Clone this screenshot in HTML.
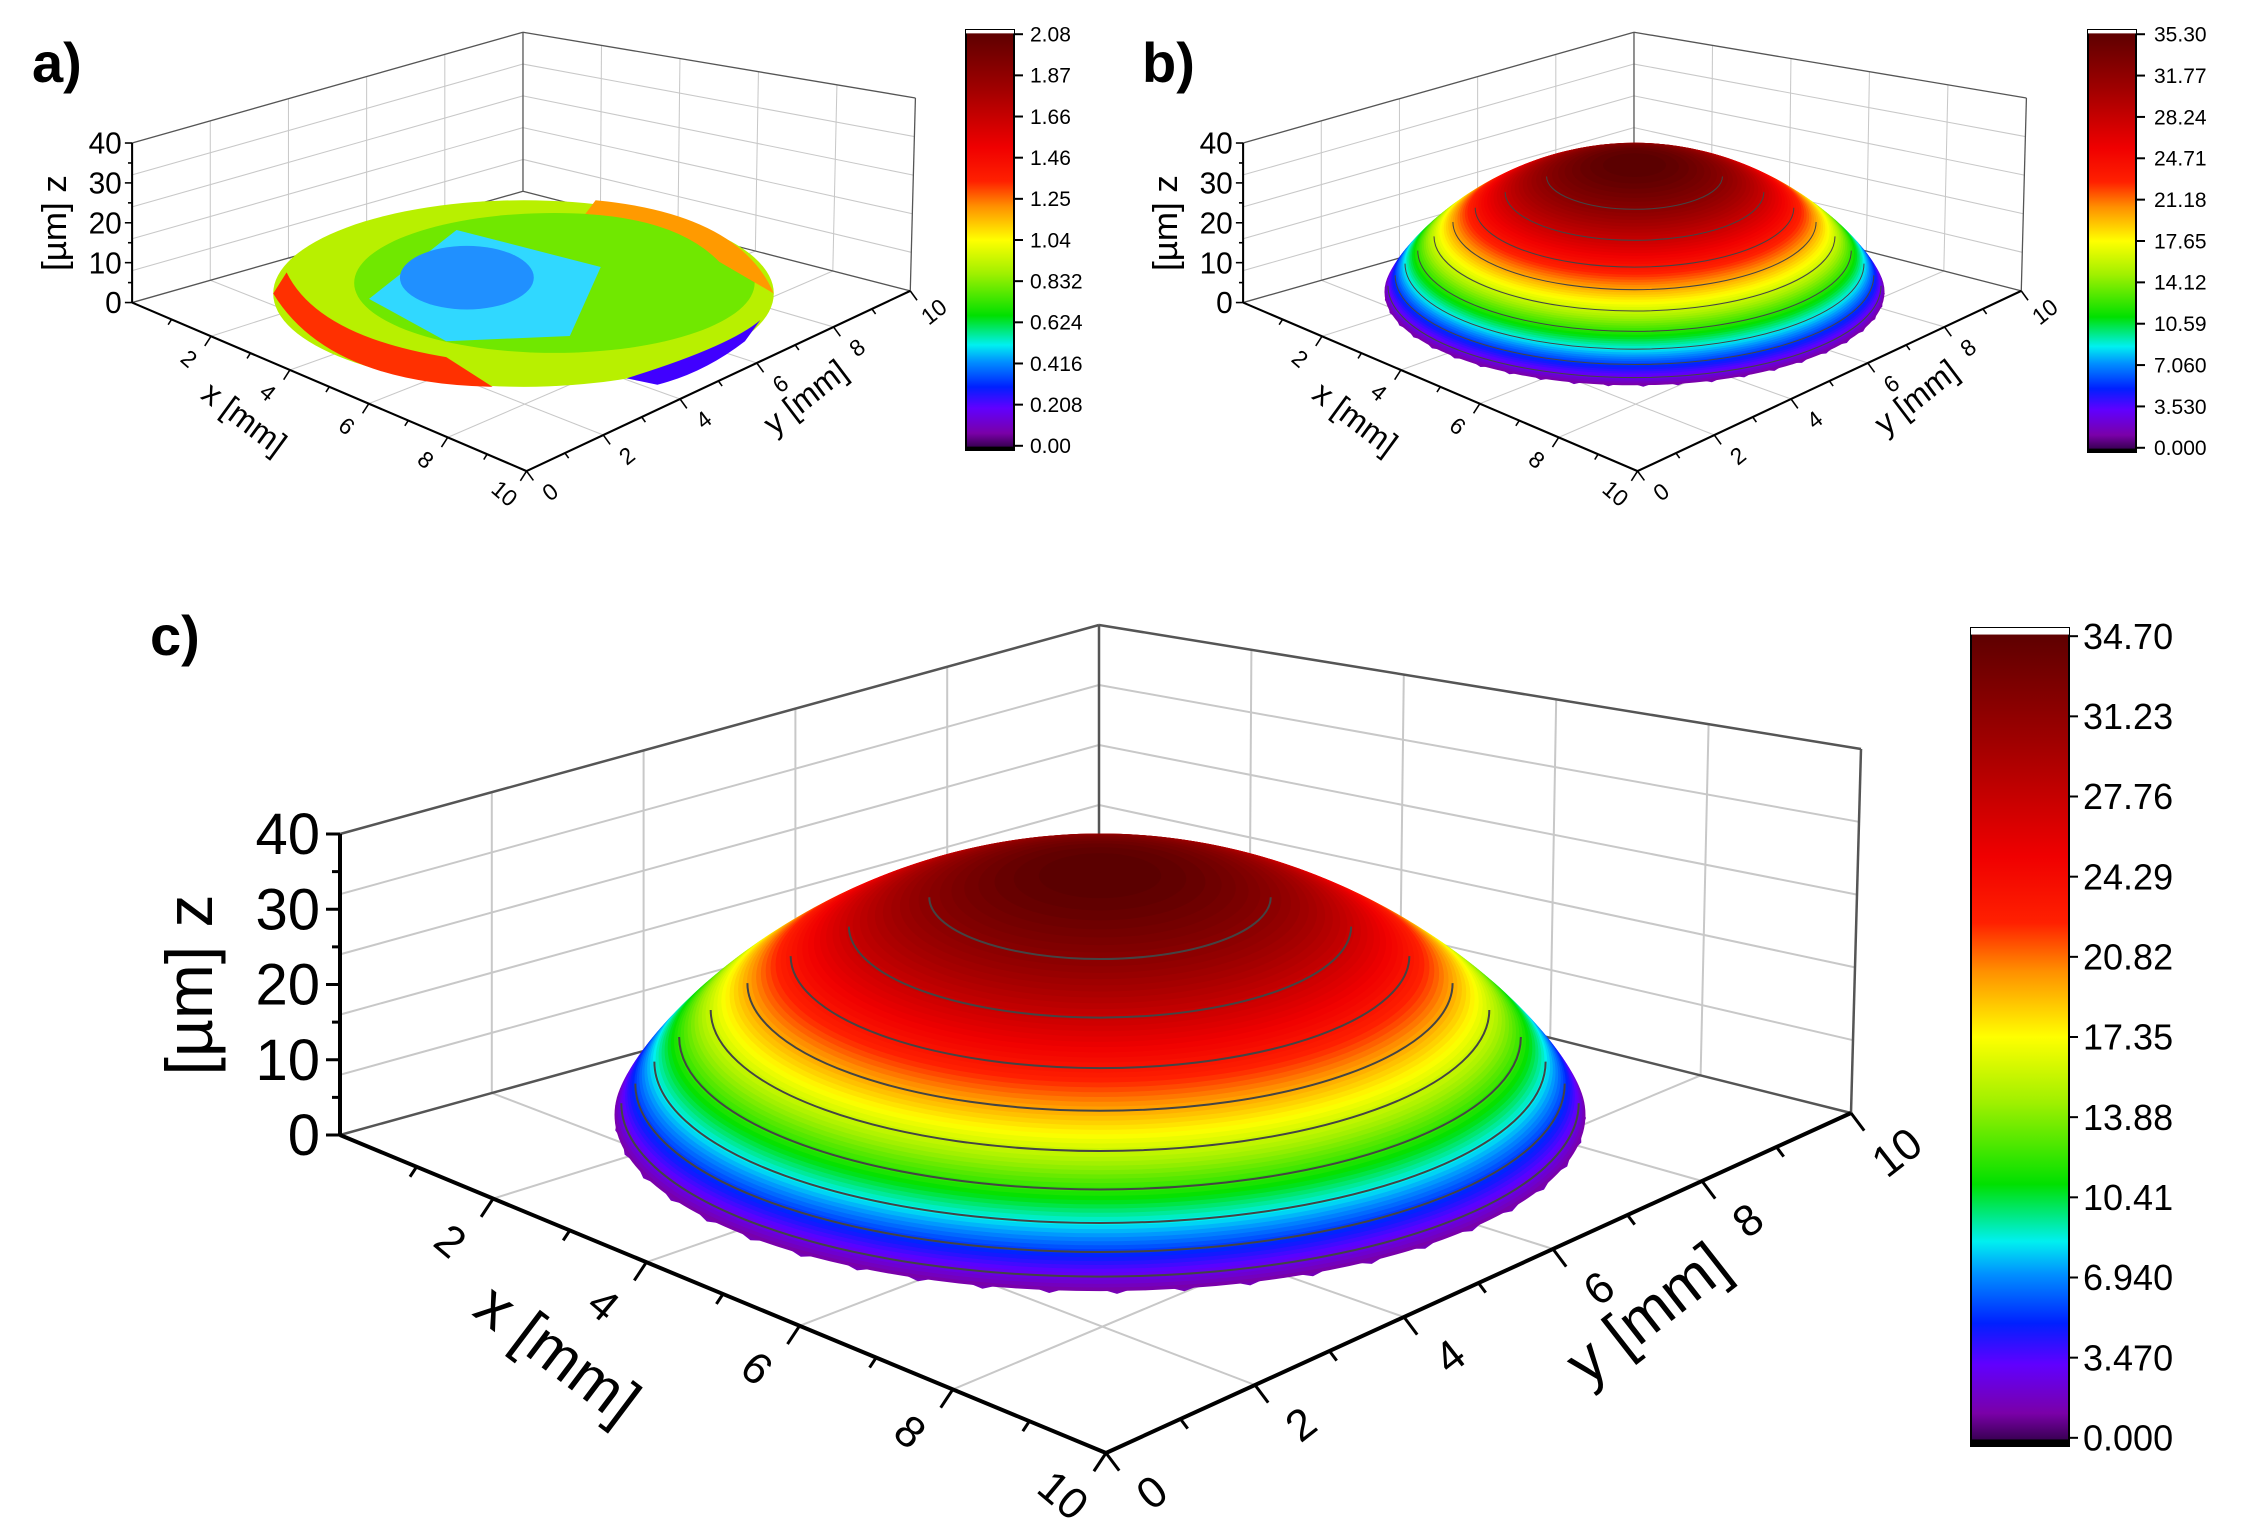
<!DOCTYPE html>
<html><head><meta charset="utf-8"><style>
html,body{margin:0;padding:0;background:#fff;}
svg{display:block;}
text{font-family:"Liberation Sans",sans-serif;}
</style></head><body>
<svg id="s" width="2244" height="1540" viewBox="0 0 2244 1540" xmlns="http://www.w3.org/2000/svg">
<defs>
<linearGradient id="cmap" x1="0" y1="1" x2="0" y2="0">
<stop offset="0" stop-color="#2a0040"/>
<stop offset="0.04" stop-color="#7a00a8"/>
<stop offset="0.1" stop-color="#6000ff"/>
<stop offset="0.15" stop-color="#0020ff"/>
<stop offset="0.21" stop-color="#0090ff"/>
<stop offset="0.25" stop-color="#00f0f0"/>
<stop offset="0.32" stop-color="#00e000"/>
<stop offset="0.42" stop-color="#a0f000"/>
<stop offset="0.5" stop-color="#ffff00"/>
<stop offset="0.58" stop-color="#ff9000"/>
<stop offset="0.64" stop-color="#ff2000"/>
<stop offset="0.72" stop-color="#f00000"/>
<stop offset="0.86" stop-color="#a00000"/>
<stop offset="1" stop-color="#5a0000"/>
</linearGradient>
</defs>
<g id="root"></g>
</svg>
<script>
var NS="http://www.w3.org/2000/svg";
function el(p,t,a,txt){var e=document.createElementNS(NS,t);for(var k in a)e.setAttribute(k,a[k]);if(txt!==undefined)e.textContent=txt;p.appendChild(e);return e;}
var root=document.getElementById('root');
var stops=[[0,[42,0,64]],[0.04,[122,0,168]],[0.1,[96,0,255]],[0.15,[0,32,255]],[0.21,[0,144,255]],[0.25,[0,240,240]],[0.32,[0,224,0]],[0.42,[160,240,0]],[0.5,[255,255,0]],[0.58,[255,144,0]],[0.64,[255,32,0]],[0.72,[240,0,0]],[0.86,[160,0,0]],[1,[90,0,0]]];
function cm(t){t=Math.max(0,Math.min(1,t));for(var i=1;i<stops.length;i++){if(t<=stops[i][0]){var a=stops[i-1],b=stops[i],f=(t-a[0])/(b[0]-a[0]);var c=a[1].map(function(v,j){return Math.round(v+(b[1][j]-v)*f)});return 'rgb('+c.join(',')+')';}}return 'rgb(90,0,0)';}
var T=[1099,625],B0=[1099,925],L1=[340,834],L0=[340,1135],R1=[1861,749],R0=[1851,1113],F0=[1106,1453];
function lerp(a,b,t){return [a[0]+(b[0]-a[0])*t,a[1]+(b[1]-a[1])*t];}
function line(g,a,b,c,w){el(g,'line',{x1:a[0],y1:a[1],x2:b[0],y2:b[1],stroke:c,'stroke-width':w});}
function rr(t){return Math.sqrt(Math.max(0,1-Math.pow(t,1.25)));}
var cx=1100,cy=1118,rx=486,ry=176;
// solve height scale so silhouette top = 834
var lo=0,hi=400;
for(var it=0;it<40;it++){var Hs=(lo+hi)/2,m=0;for(var k=0;k<=200;k++){var t=k/200;m=Math.max(m,Hs*t+ry*rr(t));}if(m>cy-834)hi=Hs;else lo=Hs;}
var HS=lo;
function panel(g,kind){
  var grid='#c8c8c8';
  for(var i=1;i<5;i++){var t=i/5;
    line(g,lerp(L0,L1,t),lerp(B0,T,t),grid,2);
    line(g,lerp(B0,T,t),lerp(R0,R1,t),grid,2);
    line(g,lerp(L0,B0,t),lerp(L1,T,t),grid,2);
    line(g,lerp(B0,R0,t),lerp(T,R1,t),grid,2);
    line(g,lerp(L0,B0,t),lerp(F0,R0,t),grid,2);
    line(g,lerp(B0,R0,t),lerp(L0,F0,t),grid,2);
  }
  var dk='#555';
  line(g,L1,T,dk,2.5);line(g,T,R1,dk,2.5);line(g,B0,T,dk,2.5);
  line(g,L0,B0,dk,2.5);line(g,B0,R0,dk,2.5);line(g,R0,R1,dk,2.5);
  if(kind==='dome'){
    // jagged base
    var pts=[];for(var a=0;a<=360;a+=4){var ang=a*Math.PI/180;var j=(a%8==0)?0:10;pts.push((cx+(rx-j*0.4)*Math.cos(ang)).toFixed(1)+','+(cy+(ry-j)*Math.sin(ang)).toFixed(1));}
    el(g,'polygon',{points:pts.join(' '),fill:cm(0.05)});
    var N=80;
    for(var k=1;k<=N;k++){var t=k/N;var r=rr(t);
      el(g,'ellipse',{cx:cx,cy:cy-HS*t,rx:rx*r+0.5,ry:ry*r+0.5,fill:cm(t*0.98+0.03)});
    }
    var lv=[0.06,0.14,0.23,0.33,0.44,0.55,0.66,0.78,0.9];
    lv.forEach(function(t){var r=rr(t);var yy=cy-HS*t;
      el(g,'path',{d:'M'+(cx-rx*r)+','+yy+' A'+(rx*r)+','+(ry*r)+' 0 0 0 '+(cx+rx*r)+','+yy,fill:'none',stroke:'#444','stroke-width':2});});
  } else {
    el(g,'ellipse',{cx:cx,cy:cy,rx:rx,ry:ry,fill:'#b8f000'});
    el(g,'ellipse',{cx:cx+60,cy:cy-20,rx:rx*0.8,ry:ry*0.75,fill:'#70e800'});
    el(g,'path',{d:'M'+(cx-300)+','+(cy+10)+' L'+(cx-130)+','+(cy-120)+' L'+(cx+150)+','+(cy-50)+' L'+(cx+90)+','+(cy+80)+' L'+(cx-150)+','+(cy+90)+'Z',fill:'#30d8ff'});
    el(g,'ellipse',{cx:cx-110,cy:cy-30,rx:130,ry:60,fill:'#2090ff'});
    el(g,'path',{d:'M'+(cx-486)+','+(cy)+' Q'+(cx-380)+','+(cy+170)+' '+(cx-60)+','+(cy+176)+' L'+(cx-150)+','+(cy+120)+' Q'+(cx-400)+','+(cy+80)+' '+(cx-460)+','+(cy-40)+'Z',fill:'#ff3000'});
    el(g,'path',{d:'M'+(cx+140)+','+(cy-176)+' Q'+(cx+420)+','+(cy-150)+' '+(cx+486)+','+(cy)+' L'+(cx+380)+','+(cy-60)+' Q'+(cx+300)+','+(cy-140)+' '+(cx+120)+','+(cy-150)+'Z',fill:'#ff9a00'});
    el(g,'path',{d:'M'+(cx+200)+','+(cy+160)+' Q'+(cx+400)+','+(cy+100)+' '+(cx+460)+','+(cy+50)+' L'+(cx+430)+','+(cy+90)+' Q'+(cx+350)+','+(cy+150)+' '+(cx+260)+','+(cy+172)+'Z',fill:'#4000ff'});
  }
  line(g,L0,F0,'#000',4);line(g,F0,R0,'#000',4);line(g,L0,L1,'#000',4);
  for(var i=1;i<=10;i++){var p=lerp(L0,F0,i/10);var L=(i%2==0)?22:12;
    line(g,p,[p[0]-L*0.55,p[1]+L*0.83],'#000',3);
    if(i%2==0){var q=[p[0]-45,p[1]+45];el(g,'text',{x:q[0],y:q[1],'font-size':44,'text-anchor':'middle','transform':'rotate(40 '+q[0]+' '+q[1]+')','dominant-baseline':'middle'},''+i);}}
  for(var i=0;i<=10;i++){var p=lerp(F0,R0,i/10);var L=(i%2==0)?22:12;
    line(g,p,[p[0]+L*0.6,p[1]+L*0.8],'#000',3);
    if(i%2==0){var q=[p[0]+48,p[1]+42];el(g,'text',{x:q[0],y:q[1],'font-size':44,'text-anchor':'middle','transform':'rotate(-38 '+q[0]+' '+q[1]+')','dominant-baseline':'middle'},''+i);}}
  for(var i=0;i<=8;i++){var p=lerp(L0,L1,i/8);var L=(i%2==0)?14:8;line(g,p,[p[0]-L,p[1]],'#000',3);
    if(i%2==0){el(g,'text',{x:p[0]-20,y:p[1]+20,'font-size':58,'text-anchor':'end'},''+(i*5));}}
  el(g,'text',{x:0,y:0,'font-size':66,'text-anchor':'middle',transform:'translate(212,985) rotate(-90)'},'[µm] z');
  el(g,'text',{x:545,y:1370,'font-size':62,'text-anchor':'middle',transform:'rotate(37 545 1370)'},'x [mm]');
  el(g,'text',{x:1660,y:1330,'font-size':62,'text-anchor':'middle',transform:'rotate(-38 1660 1330)'},'y [mm]');
}
function cbar(x,y,w,h,labels,fs,lx){
  el(root,'rect',{x:x,y:y,width:w,height:h,fill:'url(#cmap)',stroke:'#000','stroke-width':2});
  el(root,'rect',{x:x,y:y,width:w,height:h*0.008,fill:'#fff'});
  el(root,'rect',{x:x,y:y+h*0.992,width:w,height:h*0.008,fill:'#000'});
  for(var i=0;i<labels.length;i++){var yy=y+h*0.01+i*(h*0.98)/(labels.length-1);
    line(root,[x+w,yy],[x+w+9,yy],'#000',2);
    el(root,'text',{x:lx,y:yy+fs*0.35,'font-size':fs},labels[i]);}
}
var ga=el(root,'g',{transform:'translate(-43,-299) scale(0.515,0.53)'});panel(ga,'flat');
var gb=el(root,'g',{transform:'translate(1068,-299) scale(0.515,0.53)'});panel(gb,'dome');
var gc=el(root,'g',{});panel(gc,'dome');
el(root,'text',{x:32,y:82,'font-size':56,'font-weight':'bold'},'a)');
el(root,'text',{x:1142,y:82,'font-size':56,'font-weight':'bold'},'b)');
el(root,'text',{x:150,y:655,'font-size':56,'font-weight':'bold'},'c)');
cbar(966,30,48,420,['2.08','1.87','1.66','1.46','1.25','1.04','0.832','0.624','0.416','0.208','0.00'],21,1030);
cbar(2088,30,48,422,['35.30','31.77','28.24','24.71','21.18','17.65','14.12','10.59','7.060','3.530','0.000'],21,2154);
cbar(1971,628,98,818,['34.70','31.23','27.76','24.29','20.82','17.35','13.88','10.41','6.940','3.470','0.000'],36,2083);
</script>
</body></html>
